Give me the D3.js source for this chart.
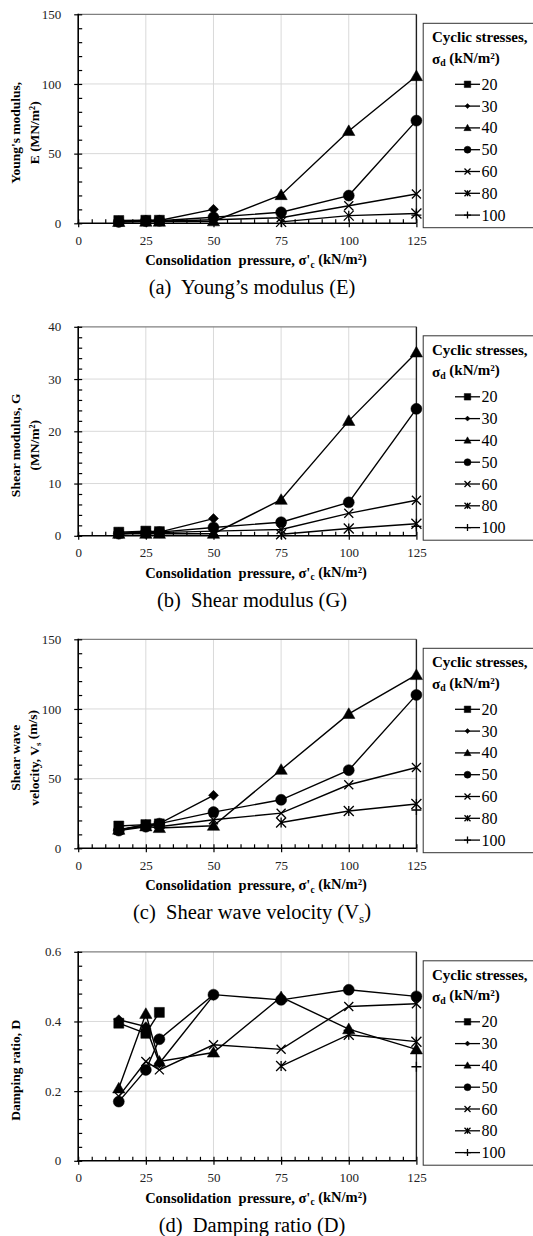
<!DOCTYPE html>
<html>
<head>
<meta charset="utf-8">
<script src="https://cdn.jsdelivr.net/npm/d3@7"></script>
<style>
  body { margin: 0; background: #fff; }
  svg text { font-family: "Liberation Serif", "Times New Roman", serif !important; white-space: pre; }
</style>
</head>
<body>
<div class="chart"></div>
<script>
// consolidation pressure, kN/m2 (x values shared by all four panels)
var pressures = [15, 25, 30, 50, 75, 100, 125];
// cyclic stress levels, one series each
var stressLevels = ['20', '30', '40', '50', '60', '80', '100'];

// rows follow stressLevels: 20, 30, 40, 50, 60, 80, 100 (null = not tested)
var youngsE = [
  [2.0, 2.2, 2.2, null, null, null, null],
  [1.5, 2.0, 2.0, 10.0, null, null, null],
  [1.0, 1.2, 1.2, 1.5, 20.3, 66.3, 105.7],
  [1.0, 1.6, 1.8, 4.3, 7.9, 19.9, 73.7],
  [1.0, 1.5, 1.5, 2.5, 4.0, 12.6, 21.0],
  [null, null, null, null, 1.0, 5.5, 7.0],
  [null, null, null, null, null, null, 5.8]
];
var shearG = [
  [0.7, 0.9, 0.8, null, null, null, null],
  [0.5, 0.7, 0.7, 3.3, null, null, null],
  [0.4, 0.4, 0.4, 0.4, 6.9, 22.0, 35.1],
  [0.4, 0.6, 0.7, 1.6, 2.6, 6.4, 24.3],
  [0.4, 0.6, 0.6, 0.9, 1.2, 4.3, 6.8],
  [null, null, null, null, 0.3, 1.4, 2.3],
  [null, null, null, null, null, null, 1.8]
];
var shearVs = [
  [16.0, 17.0, 17.5, null, null, null, null],
  [13.4, 17.0, 17.7, 38.0, null, null, null],
  [13.4, 15.8, 14.6, 16.2, 56.4, 96.5, 124.4],
  [12.7, 15.5, 17.7, 26.0, 34.8, 56.1, 110.1],
  [13.0, 17.0, 15.5, 20.5, 25.2, 45.6, 58.0],
  [null, null, null, null, 18.5, 26.8, 31.8],
  [null, null, null, null, null, null, 27.5]
];
var dampingD = [
  [0.395, 0.366, 0.426, null, null, null, null],
  [0.405, 0.385, 0.280, 0.475, null, null, null],
  [0.208, 0.422, 0.285, 0.311, 0.470, 0.378, 0.320],
  [0.170, 0.261, 0.349, 0.477, 0.462, 0.491, 0.472],
  [0.185, 0.285, 0.261, 0.333, 0.320, 0.443, 0.451],
  [null, null, null, null, 0.272, 0.362, 0.342],
  [null, null, null, null, null, null, 0.270]
];

// tick labels
var xTicks = [0, 25, 50, 75, 100, 125];
var yTicksE = [0, 50, 100, 150];
var yTicksG = [0, 10, 20, 30, 40];
var yTicksVs = [0, 50, 100, 150];
var yTicksD = [0, 0.2, 0.4, 0.6];

// text pieces: [text, isSubscript]
var panels = [
  { values: youngsE, ticks: yTicksE, minor: 10,
    yTitle: [[["Young's modulus,"]], [["E (MN/m\u00b2)"]]],
    caption: [["(a)  Young\u2019s modulus (E)"]] },
  { values: shearG, ticks: yTicksG, minor: 2,
    yTitle: [[["Shear modulus, G"]], [["(MN/m\u00b2)"]]],
    caption: [["(b)  Shear modulus (G)"]] },
  { values: shearVs, ticks: yTicksVs, minor: 10,
    yTitle: [[["Shear wave"]], [["velocity, V"], ["s", true], [" (m/s)"]]],
    caption: [["(c)  Shear wave velocity (V"], ["s", true], [")"]] },
  { values: dampingD, ticks: yTicksD, minor: 0.04,
    yTitle: [[["Damping ratio, D"]]],
    caption: [["(d)  Damping ratio (D)"]] }
];

var W = 533, H = 1236;
var plotLeft = 78.2, plotRight = 416.4, plotH = 209;

var svg = d3.select('.chart')
  .append('svg')
    .attr('width', W)
    .attr('height', H)
    .attr('font-family', '"Liberation Serif", serif');

svg.append('rect').attr('width', W).attr('height', H).attr('fill', '#fff');

var xScale = d3.scaleLinear().domain([0, 125]).range([plotLeft, plotRight]);

// marker shapes, centred on 0,0
function markerPath(i, s) {
  var h = s / 2;
  switch (i) {
    case 0: return `M${-h},${-h}h${s}v${s}h${-s}Z`;
    case 1: return `M0,${-h}L${h},0L0,${h}L${-h},0Z`;
    case 2: return `M0,${-s * 0.55}L${s * 0.56},${s * 0.42}L${-s * 0.56},${s * 0.42}Z`;
    case 3: return `M${h},0A${h},${h} 0 1 1 ${-h},0A${h},${h} 0 1 1 ${h},0Z`;
    case 4: return `M${-h},${-h}L${h},${h}M${-h},${h}L${h},${-h}`;
    case 5: return `M${-h},${-h}L${h},${h}M${-h},${h}L${h},${-h}M0,${-h}L0,${h}`;
    default: return `M${-h},0L${h},0M0,${-h}L0,${h}`;
  }
}
var plotSizes = [10, 10, 11, 11, 9, 10, 10];
var legendSizes = [6.5, 5, 6.5, 7, 6, 6, 7];
var filled = [true, true, true, true, false, false, false];

function richText(sel, parts) {
  parts.forEach(function (p) {
    var t = sel.append('tspan').text(p[0]);
    if (p[1]) t.attr('font-size', '0.65em').attr('dy', '0.25em');
    else if (sel.selectAll('tspan').size() > 1) t.attr('dy', '-0.25em');
  });
}

panels.forEach(function (p, k) {
  var top = 14.3 + k * 312.5;
  var bottom = top + plotH;
  var yMax = p.ticks[p.ticks.length - 1];
  var yScale = d3.scaleLinear().domain([0, yMax]).range([bottom, top]);
  var g = svg.append('g');

  // gridlines
  g.selectAll('.vgrid')
    .data(xTicks.slice(1, -1))
    .enter().append('line')
      .attr('x1', d => xScale(d)).attr('x2', d => xScale(d))
      .attr('y1', top).attr('y2', bottom)
      .attr('stroke', '#d9d9d9').attr('stroke-width', 1);
  g.selectAll('.hgrid')
    .data(p.ticks.slice(1, -1))
    .enter().append('line')
      .attr('x1', plotLeft).attr('x2', plotRight)
      .attr('y1', d => yScale(d)).attr('y2', d => yScale(d))
      .attr('stroke', '#d9d9d9').attr('stroke-width', 1);
  // top and right frame
  g.append('line').attr('x1', plotLeft).attr('x2', plotRight)
    .attr('y1', top).attr('y2', top).attr('stroke', '#808080').attr('stroke-width', 1.2);
  g.append('line').attr('x1', plotRight).attr('x2', plotRight)
    .attr('y1', top).attr('y2', bottom).attr('stroke', '#202020').attr('stroke-width', 1.4);

  // series lines
  var line = d3.line()
    .defined(d => d[1] != null)
    .x(d => xScale(d[0]))
    .y(d => yScale(d[1]));

  p.values.forEach(function (vals, i) {
    var pts = pressures.map((x, j) => [x, vals[j]]);
    g.append('path')
      .attr('d', line(pts))
      .attr('fill', 'none')
      .attr('stroke', '#000')
      .attr('stroke-width', 1.4);
  });
  p.values.forEach(function (vals, i) {
    var pts = pressures.map((x, j) => [x, vals[j]]).filter(d => d[1] != null);
    g.selectAll(null)
      .data(pts)
      .enter().append('path')
        .attr('transform', d => `translate(${xScale(d[0])},${yScale(d[1])})`)
        .attr('d', markerPath(i, plotSizes[i]))
        .attr('fill', filled[i] ? '#000' : 'none')
        .attr('stroke', '#000')
        .attr('stroke-width', filled[i] ? 0.5 : 1.3);
  });

  // axes: minor ticks inside, major ticks crossing
  var yMinor = d3.range(0, yMax + p.minor / 2, p.minor);
  g.append('g')
    .attr('transform', `translate(${plotLeft},0)`)
    .call(d3.axisRight(yScale).tickValues(yMinor).tickSize(4).tickSizeOuter(0).tickFormat(''))
    .call(a => a.select('.domain').remove());
  g.append('g')
    .attr('transform', `translate(${plotLeft},0)`)
    .call(d3.axisLeft(yScale).tickValues(p.ticks).tickSize(4).tickSizeOuter(0).tickPadding(13)
      .tickFormat(d3.format('~g')))
    .call(a => a.select('.domain').remove())
    .call(a => a.selectAll('text').attr('font-size', 13).attr('fill', '#222'));

  var xMinor = d3.range(0, 126, 5);
  g.append('g')
    .attr('transform', `translate(0,${bottom})`)
    .call(d3.axisTop(xScale).tickValues(xMinor).tickSize(4).tickSizeOuter(0).tickFormat(''))
    .call(a => a.select('.domain').remove());
  g.append('g')
    .attr('transform', `translate(0,${bottom})`)
    .call(d3.axisBottom(xScale).tickValues(xTicks).tickSize(4).tickSizeOuter(0).tickPadding(8))
    .call(a => a.select('.domain').remove())
    .call(a => a.selectAll('text').attr('font-size', 13).attr('fill', '#222'));
  g.selectAll('.tick line').attr('stroke', '#000').attr('stroke-width', 1.2);

  g.append('line').attr('x1', plotLeft).attr('x2', plotLeft)
    .attr('y1', top - 0.5).attr('y2', bottom + 0.8).attr('stroke', '#000').attr('stroke-width', 1.6);
  g.append('line').attr('x1', plotLeft - 0.8).attr('x2', plotRight)
    .attr('y1', bottom).attr('y2', bottom).attr('stroke', '#000').attr('stroke-width', 1.6);

  // axis titles
  var midY = (top + bottom) / 2 + 14;
  p.yTitle.forEach(function (parts, li) {
    var t = g.append('text')
      .attr('transform', `translate(${20 + li * 18.5},${midY}) rotate(-90)`)
      .attr('text-anchor', 'middle')
      .attr('font-weight', 'bold')
      .attr('font-size', 13.5);
    richText(t, parts);
  });
  var xt = g.append('text')
    .attr('x', 256).attr('y', bottom + 42)
    .attr('text-anchor', 'middle')
    .attr('font-weight', 'bold')
    .attr('font-size', 14.5);
  richText(xt, [["Consolidation  pressure, \u03c3'"], ["c", true], [" (kN/m\u00b2)"]]);

  var cap = g.append('text')
    .attr('x', 252).attr('y', bottom + 71)
    .attr('text-anchor', 'middle')
    .attr('font-size', 20.5);
  richText(cap, p.caption);

  // legend
  var lg = g.append('g');
  lg.append('rect')
    .attr('x', 423.2).attr('y', top + 9)
    .attr('width', 130).attr('height', plotH - 4.6)
    .attr('fill', '#fff').attr('stroke', '#333').attr('stroke-width', 1);
  lg.append('text').attr('x', 432).attr('y', top + 28)
    .attr('font-weight', 'bold').attr('font-size', 15)
    .text('Cyclic stresses,');
  var lt2 = lg.append('text').attr('x', 432).attr('y', top + 49.7)
    .attr('font-weight', 'bold').attr('font-size', 15);
  richText(lt2, [['\u03c3'], ['d', true], [' (kN/m\u00b2)']]);

  var items = lg.selectAll('.item')
    .data(stressLevels)
    .enter().append('g')
      .attr('transform', (d, i) => `translate(0,${top + 70 + i * 21.8})`);
  items.append('line')
    .attr('x1', 455).attr('x2', 480)
    .attr('stroke', '#000').attr('stroke-width', 1.3);
  items.append('path')
    .attr('transform', 'translate(467.5,0)')
    .attr('d', (d, i) => markerPath(i, legendSizes[i]))
    .attr('fill', (d, i) => filled[i] ? '#000' : 'none')
    .attr('stroke', '#000')
    .attr('stroke-width', (d, i) => filled[i] ? 0.5 : 1.3);
  items.append('text')
    .attr('x', 481.5).attr('y', 5.5)
    .attr('font-size', 16)
    .text(d => d);
});
</script>
</body>
</html>
